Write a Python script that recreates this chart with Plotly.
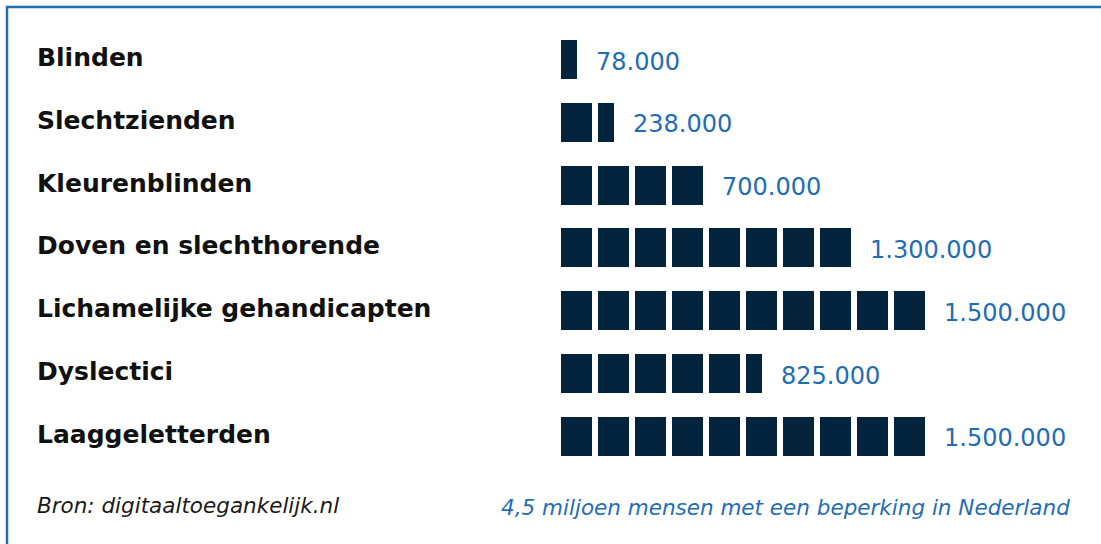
import plotly.graph_objects as go
import math

categories = ["Blinden", "Slechtzienden", "Kleurenblinden", "Doven en slechthorende",
              "Lichamelijke gehandicapten", "Dyslectici", "Laaggeletterden"]
value_labels = ["78.000", "238.000", "700.000", "1.300.000", "1.500.000", "825.000", "1.500.000"]
# number of squares drawn per row
squares = [0.5, 1.5, 4, 8, 10, 5.5, 10]
source_text = "Bron: digitaaltoegankelijk.nl"
footnote_text = "4,5 miljoen mensen met een beperking in Nederland"

W, H = 1101, 544
SQ = 31 / 37  # square width as fraction of pitch
NAVY = "#03243c"
BLUE = "#1f6db4"
FONT = "DejaVu Sans"

fig = go.Figure()
rows = list(range(len(categories)))
max_sq = int(math.ceil(max(squares)))
for k in range(max_sq):
    xs = []
    for s in squares:
        f = max(0.0, min(1.0, s - k))
        xs.append(f * SQ)
    fig.add_trace(go.Bar(
        y=rows, x=xs, base=[k] * len(rows), orientation="h",
        marker=dict(color=NAVY, line=dict(width=0)), width=0.62,
        hoverinfo="skip", showlegend=False))

annotations = []
for i, (cat, lab, s) in enumerate(zip(categories, value_labels, squares)):
    n = math.ceil(s)
    frac = s - (n - 1)
    end = (n - 1) + frac * SQ
    annotations.append(dict(x=35 / W, xref="paper", y=i, yref="y", text=f"<b>{cat}</b>",
                            showarrow=False, xanchor="left", yanchor="middle", yshift=2,
                            font=dict(family=FONT, size=25, color="#111111")))
    annotations.append(dict(x=end, xref="x", y=i, yref="y", text=lab, xshift=17,
                            showarrow=False, xanchor="left", yanchor="middle", yshift=-2,
                            font=dict(family=FONT, size=24, color=BLUE)))

annotations.append(dict(x=35 / W, xref="paper", y=1 - 505 / H, yref="paper", text=f"<i>{source_text}</i>",
                        showarrow=False, xanchor="left", yanchor="middle",
                        font=dict(family=FONT, size=21.5, color="#1a1a1a")))
annotations.append(dict(x=1072 / W, xref="paper", y=1 - 507 / H, yref="paper", text=f"<i>{footnote_text}</i>",
                        showarrow=False, xanchor="right", yanchor="middle",
                        font=dict(family=FONT, size=21.5, color=BLUE)))

x0_px, pitch_px = 561, 37
row0_px, rowpitch_px = 59.5, 62.8
fig.update_layout(
    width=W, height=H, margin=dict(l=0, r=0, t=0, b=0),
    paper_bgcolor="white", plot_bgcolor="white",
    barmode="overlay", bargap=0,
    xaxis=dict(range=[-x0_px / pitch_px, (W - x0_px) / pitch_px], visible=False, fixedrange=True),
    yaxis=dict(range=[(H - row0_px) / rowpitch_px, -row0_px / rowpitch_px], visible=False, fixedrange=True),
    annotations=annotations,
    shapes=[dict(type="rect", xref="paper", yref="paper", x0=7 / W, x1=1.05, y0=-0.05, y1=1 - 7 / H,
                 line=dict(color=BLUE, width=2.5), fillcolor="rgba(0,0,0,0)", layer="above")],
)
fig.write_html("out.html", config={"displayModeBar": False},
               post_script="document.body.style.margin='0';document.body.style.overflow='hidden';")
